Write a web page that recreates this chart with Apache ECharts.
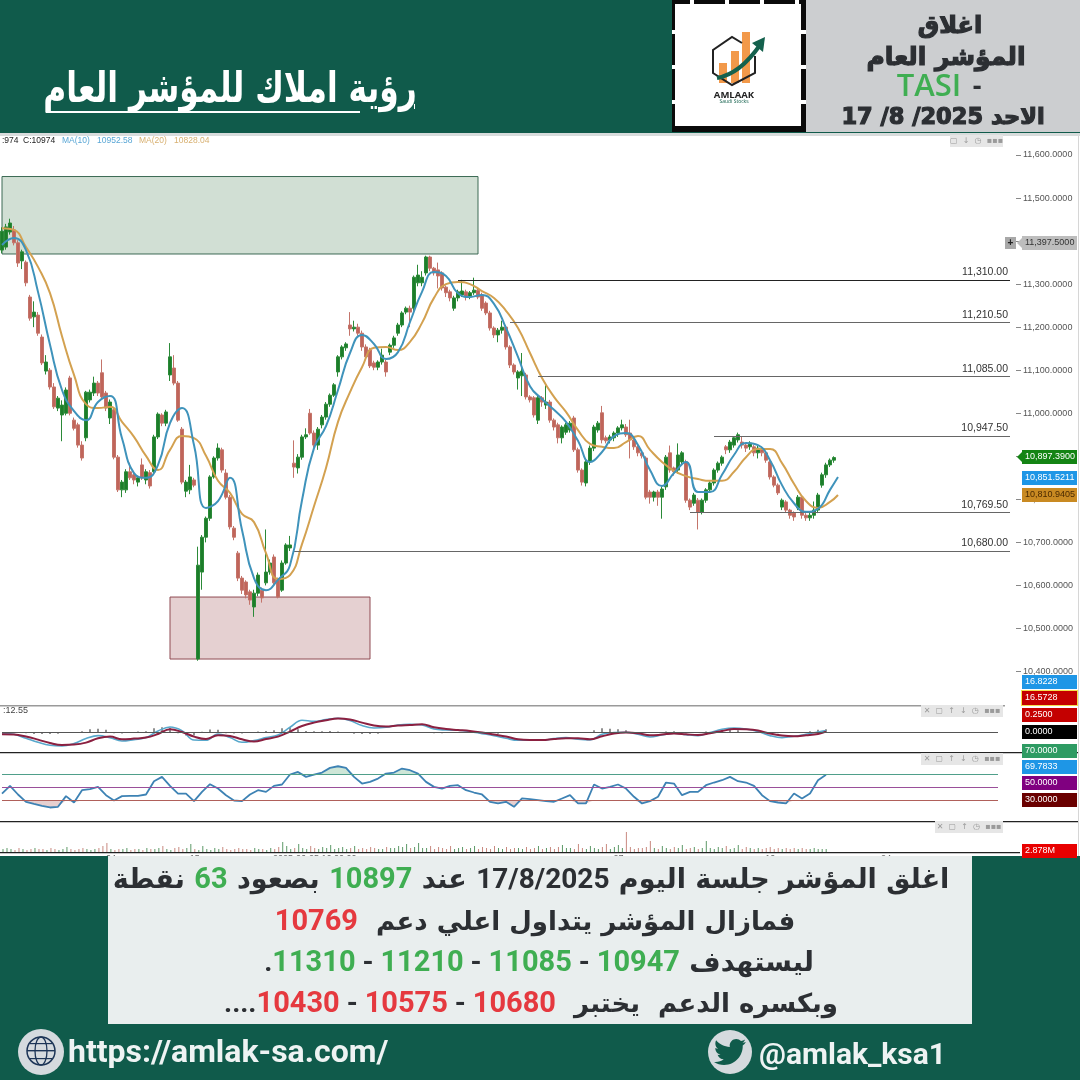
<!DOCTYPE html>
<html>
<head>
<meta charset="UTF-8">
<script src="https://cdn.jsdelivr.net/npm/echarts@6/dist/echarts.min.js"></script>
<style>
html,body{margin:0;padding:0;background:#fff}
#chart{width:1080px;height:1080px}
</style>
</head>
<body>
<div id="chart"></div>
<script type="text/javascript">
// open, close, low, high, one row per candle
var candles = [
[11379,11423,11372,11432],[11386,11433,11380,11440],[11421,11442,11415,11452],[11426,11396,11390,11435],[11396,11349,11340,11402],
[11354,11375,11335,11380],[11351,11303,11295,11355],[11270,11221,11215,11275],[11224,11235,11200,11260],[11228,11186,11180,11235],
[11177,11117,11112,11183],[11098,11119,11090,11135],[11100,11061,11055,11105],[11061,11015,11010,11070],[11012,11035,11005,11040],
[10996,11019,10935,11030],[11000,11054,10995,11060],[11082,11000,10995,11087],[10984,10965,10960,10990],[10973,10926,10920,10978],
[10926,10896,10890,10935],[10943,11049,10935,11052],[11031,11049,11025,11055],[11047,11070,11040,11085],[11070,11047,11040,11075],
[11094,11038,11032,11125],[11047,11012,11005,11052],[10989,11026,10975,11032],[11008,10898,10893,11012],[10898,10822,10817,10903],
[10822,10840,10805,10845],[10822,10864,10815,10870],[10864,10850,10845,10885],[10857,10845,10835,10862],[10840,10850,10830,10855],
[10880,10850,10845,10895],[10845,10864,10835,10870],[10862,10831,10825,10868],[10864,10945,10860,10950],[10945,10998,10940,11002],
[10996,10977,10970,11000],[10977,11003,10970,11008],[11089,11131,11075,11163],[11105,11070,11065,11135],[11070,10984,10980,11075],
[10963,10840,10835,10968],[10819,10840,10805,10845],[10822,10852,10812,10880],[10845,10833,10828,10850],[10429,10647,10425,10690],
[10631,10712,10590,10717],[10712,10756,10700,10760],[10756,10852,10750,10856],[10852,10896,10848,10900],[10896,10919,10890,10930],
[10915,10868,10862,10920],[10861,10805,10800,10870],[10805,10736,10730,10810],[10733,10712,10705,10738],[10675,10617,10610,10680],
[10617,10589,10580,10622],[10608,10578,10570,10612],[10585,10566,10555,10590],[10550,10582,10527,10590],[10582,10624,10575,10630],
[10589,10571,10560,10595],[10606,10631,10600,10730],[10631,10652,10625,10660],[10666,10606,10600,10672],[10613,10573,10570,10618],
[10589,10652,10585,10658],[10652,10694,10648,10698],[10687,10694,10680,10715],[10884,10875,10850,10937],[10873,10898,10860,10905],
[10898,10945,10892,10950],[10945,10950,10940,10965],[11000,10954,10950,11010],[10954,10926,10920,10960],[10926,10963,10915,10968],
[10973,10991,10965,10996],[10991,11021,10985,11026],[11021,11042,11015,11046],[11042,11066,11038,11070],[11096,11131,11085,11135],
[11131,11154,11125,11158],[11152,11161,11145,11165],[11205,11196,11180,11235],[11196,11200,11190,11215],[11200,11186,11180,11208],
[11186,11154,11145,11192],[11154,11131,11125,11160],[11147,11110,11105,11152],[11117,11107,11100,11122],[11107,11119,11100,11123],
[11119,11135,11113,11150],[11119,11096,11085,11124],[11142,11158,11135,11162],[11158,11175,11152,11180],[11186,11205,11180,11210],
[11205,11233,11200,11237],[11235,11244,11230,11248],[11244,11235,11200,11250],[11244,11316,11238,11320],[11303,11321,11295,11345],
[11303,11316,11295,11330],[11326,11363,11320,11366],[11363,11337,11330,11366],[11337,11326,11320,11340],[11333,11319,11290,11350],
[11326,11291,11285,11330],[11293,11280,11270,11297],[11282,11268,11260,11287],[11244,11268,11238,11273],[11268,11282,11260,11287],
[11275,11284,11270,11310],[11282,11270,11262,11287],[11270,11280,11265,11284],[11280,11286,11275,11315],[11286,11270,11265,11291],
[11275,11244,11238,11280],[11256,11233,11228,11260],[11233,11198,11192,11238],[11198,11182,11175,11202],[11182,11193,11165,11198],
[11193,11200,11185,11215],[11200,11154,11148,11205],[11154,11112,11105,11158],[11112,11096,11090,11116],[11082,11096,11055,11100],
[11087,11098,11040,11140],[11089,11038,11032,11094],[11038,11031,11025,11042],[11036,10996,10990,11040],[10984,11036,10975,11040],
[11036,11026,11015,11040],[11019,11026,11010,11065],[11026,10984,10978,11031],[10984,10968,10960,10988],[10973,10943,10930,10978],
[10943,10968,10930,10972],[10956,10973,10950,10978],[10961,10977,10955,10982],[10989,10915,10910,10994],[10915,10868,10862,10920],
[10868,10840,10832,10872],[10838,10887,10830,10892],[10887,10919,10880,10925],[10919,10968,10912,10973],[10961,10977,10955,10982],
[11001,10938,10930,11017],[10943,10936,10930,10948],[10938,10945,10930,10950],[10943,10954,10935,10958],[10954,10966,10945,10970],
[10966,10973,10960,10985],[10968,10950,10945,10975],[10954,10938,10895,10985],[10938,10922,10915,10942],[10922,10908,10900,10926],
[10908,10901,10895,10912],[10896,10805,10800,10900],[10817,10805,10790,10822],[10805,10817,10795,10820],[10817,10805,10785,10822],
[10805,10824,10755,10830],[10829,10898,10822,10903],[10908,10868,10862,10925],[10873,10864,10855,10876],[10868,10903,10860,10930],
[10887,10908,10880,10912],[10887,10798,10792,10892],[10798,10782,10775,10802],[10791,10810,10785,10815],[10798,10770,10730,10803],
[10770,10798,10765,10802],[10798,10822,10792,10826],[10822,10838,10815,10842],[10838,10868,10832,10872],[10868,10884,10862,10888],
[10884,10898,10878,10902],[10922,10915,10905,10926],[10915,10933,10908,10938],[10926,10943,10920,10947],[10938,10950,10932,10955],
[10933,10926,10918,10945],[10926,10919,10910,10930],[10922,10931,10915,10935],[10922,10908,10900,10926],[10908,10919,10895,10924],
[10917,10908,10900,10922],[10908,10891,10885,10912],[10887,10852,10846,10891],[10852,10833,10828,10856],[10833,10815,10810,10837],
[10782,10798,10775,10802],[10794,10775,10770,10798],[10775,10763,10755,10778],[10768,10759,10750,10772],[10780,10805,10775,10810],
[10805,10763,10755,10810],[10763,10757,10750,10768],[10757,10763,10750,10770],[10763,10775,10755,10795],[10775,10810,10768,10815],
[10833,10857,10827,10862],[10857,10880,10850,10885],[10880,10891,10875,10895],[10891,10897,10885,10900]
];

// moving averages, one value every third candle
var ma10 = [11391,11407,11379,11282,11159,11054,11005,10984,11026,11040,10942,10861,10850,10880,10977,11012,10926,10780,10796,10850,10729,10617,10589,10613,10647,10798,10919,10970,11054,11140,11182,11161,11126,11142,11212,11282,11328,11319,11279,11270,11275,11254,11198,11131,11063,11033,11008,10980,10936,10887,10910,10947,10954,10926,10868,10831,10861,10887,10817,10817,10857,10903,10931,10926,10891,10833,10791,10771,10778,10822,10852];
var ma20 = [11430,11426,11386,11340,11279,11179,11089,11021,11012,11015,10980,10945,10901,10868,10915,10947,10942,10901,10843,10815,10766,10747,10675,10615,10624,10696,10784,10873,10980,11049,11107,11152,11154,11147,11166,11210,11268,11300,11305,11300,11284,11268,11238,11198,11140,11082,11038,11003,10961,10929,10922,10919,10933,10947,10915,10887,10866,10854,10847,10843,10843,10864,10898,10917,10917,10884,10836,10796,10780,10794,10810];

// macd pane, one value every third candle
var macdLine = [-7,-20,-60,-100,-130,-137,-113,-63,-33,-53,-87,-73,-53,13,53,17,-77,-80,-17,-53,-100,-83,-53,-27,50,120,110,127,140,117,67,43,50,73,80,73,33,23,20,7,-13,-33,-60,-80,-80,-80,-63,-53,-70,-77,-20,-3,0,-20,-47,-27,-10,-23,-33,-3,30,43,33,7,-33,-53,-40,-20,3,17];
var macdSignal = [-20,-23,-43,-73,-107,-127,-123,-103,-60,-43,-70,-63,-53,-17,30,3,-43,-67,-30,-37,-70,-93,-67,-43,7,63,97,120,137,127,97,67,57,67,73,80,50,33,23,13,-3,-23,-43,-70,-77,-77,-67,-60,-60,-70,-40,-13,-3,-10,-30,-23,-13,-20,-27,-10,13,33,30,17,-13,-33,-40,-30,-17,7];
// one value every second candle
var macdHist = [0,0,-5,-10,-17,-17,-17,-15,-3,-2,10,30,35,25,-10,-13,-5,8,10,40,50,45,-10,-33,-33,5,27,25,-10,-13,-13,0,8,12,20,40,50,30,12,10,10,12,8,0,-15,-17,-17,-15,0,3,4,3,2,-5,-10,-10,-5,-2,0,-5,-15,-17,-15,-5,-5,-3,-3,0,0,0,0,2,0,3,20,40,35,30,20,0,-10,-8,0,8,10,3,0,-2,8,12,20,25,20,0,0,-8,-8,-10,-5,0,0,10,25,30];

// rsi, one value every second candle
var rsiLine = [40.6,52.6,39.1,27.7,24.5,21.4,18.8,19.9,36.5,26.6,45.8,47.4,51,38,29.7,36.5,37,37,39.1,59.9,66.6,52.6,40.6,40.6,28.7,43.2,55.2,48.4,38,29.7,28.7,39.1,45.8,43.2,52.6,54.7,70.3,74.4,66.6,70.3,73.4,80.7,83.2,80.7,66.6,56.2,58.8,64,71.8,73.4,79.6,77,71.8,58.8,51,48.4,52.6,53.6,45.8,42.2,39.1,27.7,25.1,27.7,19.9,32.9,31.8,30.3,28.7,27.7,32.9,38,25.1,25.1,54.7,48.4,51,54.7,48.4,35.5,25.1,28.7,35.5,57.8,56.2,38,43.2,43.2,53.6,57.8,61.4,66.6,59.9,57.8,52.6,38,28.7,26.6,25.1,40.6,32.9,40.6,61.4,69.8];
var rsiLevels = [70,50,30];

// volume in millions, one per candle
var volumes = [3,4,3,2,4,3,2,3,4,3, 3,2,4,3,2,3,5,3,2,3, 4,3,2,3,4,6,9,3,2,3, 3,4,2,3,3,2,4,3,3,4, 6,3,2,4,5,3,4,8,3,2,
6,3,2,4,3,5,3,2,3,4, 3,3,2,4,3,3,2,4,3,5, 10,6,3,4,8,4,3,6,4,3, 5,4,7,3,4,5,3,4,6,3, 4,3,5,4,3,3,5,4,4,6,
5,8,4,5,9,4,4,6,3,5, 4,3,6,3,4,5,3,4,6,3, 5,4,3,6,4,3,5,3,4,4, 3,5,3,4,6,3,4,5,3,5, 7,4,4,3,8,4,3,6,4,3,
5,8,3,5,7,4,20,5,3,4, 4,5,11,4,3,6,4,3,5,4, 7,3,4,5,3,4,11,4,3,5, 4,6,3,4,7,3,5,4,3,4, 3,4,5,3,4,3,4,3,4,3, 4,3,3,4,3,3,3];

// support / target levels and where each line starts
var levelValues = [11310,11210.5,11085,10947.5,10769.5,10680];
var levelStart = [114,127,134,178,172,73];
var greenZone = [11550,11370];
var redZone = [10573,10429];

var slotCount = 254;
var cats = [];
for (var i = 0; i < slotCount; i++) cats.push(String(i));
var timeTicks = {27:'04',48:'15',78:'2025-06-25 16:00:00',154:'27',192:'10',221:'24'};

function every(arr, step, last) {
	return arr.map(function(v, k){ return [Math.min(k * step, last), v]; });
}
function money(v, d) {
	var parts = v.toFixed(d).split('.');
	parts[0] = parts[0].replace(/\B(?=(\d{3})+$)/g, ',');
	return parts.join('.');
}

var BG = '#105b4b', INK = '#2c2f33', GREEN = '#3fae52', RED = '#e5393f';
var FONT_AR = '"DejaVu Sans"';
var els = [];
function rect(x, y, w, h, fill, extra) {
	els.push(Object.assign({type:'rect', z:100, silent:true, shape:{x:x,y:y,width:w,height:h}, style:{fill:fill}}, extra || {}));
}
function txt(x, y, s, font, fill, align, styleExtra, elExtra) {
	var st = Object.assign({text:s, font:font, fill:fill, align:align||'left', textAlign:align||'left', verticalAlign:'middle', textVerticalAlign:'middle'}, styleExtra || {});
	els.push(Object.assign({type:'text', z:101, silent:true, x:x, y:y, style:st}, elExtra || {}));
}

// banners, drawn over the chart so the time labels get cut like in the screenshot
rect(0,0,1080,133,BG);
rect(0,856,1080,224,BG);
rect(0,133,1080,3,'#d8dcdc');
rect(806,0,274,132,'#ccced0');
rect(108,856,864,168,'#e9eeee');

// title
txt(230,91,'رؤية املاك للمؤشر العام','bold 42px '+FONT_AR,'#ffffff','center',null,{scaleX:0.745});
rect(46,111,314,2,'#ffffff');
rect(414,104,1,5,'#ffffff');

// logo box
rect(672,0,134,132,'#0a0a0a');
rect(675,4,126,122,'#ffffff');
[690,725,760,795].forEach(function(x){ rect(x,0,4,4,'#ffffff'); });
[30,65,100].forEach(function(y){ rect(672,y,3,4,'#ffffff'); rect(801,y,5,4,'#ffffff'); });
rect(719,63,8,20,'#f2994a');
rect(731,51,8,32,'#f2994a');
rect(742,32,8,51,'#f2994a');
els.push({type:'polyline', z:101, silent:true, shape:{points:[[742,43],[732,37],[713,50],[713,73],[732,85],[755,73],[755,56]]}, style:{stroke:'#222',lineWidth:2,fill:null}});
els.push({type:'bezierCurve', z:102, silent:true, shape:{x1:717,y1:78,x2:760,y2:45,cpx1:740,cpy1:74}, style:{stroke:'#14614d',lineWidth:4,fill:null}});
els.push({type:'polygon', z:102, silent:true, shape:{points:[[765,37],[763,52],[752,43]]}, style:{fill:'#14614d'}});
txt(734,95,'AMLAAK','bold 9.5px "Open Sans"','#222','center');
txt(734,102,'Saudi Stocks','5px "Open Sans"','#14614d','center');

// top right panel
var heavy = {stroke:INK, lineWidth:1.2};
txt(950,27,'اغلاق','bold 24px '+FONT_AR,INK,'center',heavy);
txt(946,58,'المؤشر العام','bold 25px '+FONT_AR,INK,'center',heavy);
txt(929,87,'TASI','600 31px "Open Sans"',GREEN,'center');
txt(977,87,'-','bold 27px "Open Sans"',INK,'center');
txt(943,118,'17 /8 /2025 الاحد','bold 22.5px '+FONT_AR,INK,'center',heavy);

// text under the chart, each line written left to right as it appears
var richStyles = {
	a:{font:'bold 27px '+FONT_AR, fill:INK},
	b:{font:'bold 26px '+FONT_AR, fill:INK},
	g:{font:'bold 29px Roboto', fill:GREEN},
	r:{font:'bold 29px Roboto', fill:RED},
	k:{font:'bold 28px Roboto', fill:INK}
};
function richLine(y, cx, s) {
	els.push({type:'text', z:101, silent:true, x:cx, y:y, style:{text:s, rich:richStyles, align:'center', textAlign:'center', verticalAlign:'middle', textVerticalAlign:'middle'}});
}
richLine(881,531,'{a|نقطة }{g|63}{a| بصعود }{g|10897}{a| عند }{k|17/8/2025}{a| اغلق المؤشر جلسة اليوم}');
richLine(923,535,'{r|10769}{b|  فمازال المؤشر يتداول اعلي دعم}');
richLine(964,539,'{k|.}{g|11310}{k| - }{g|11210}{k| - }{g|11085}{k| - }{g|10947}{a| ليستهدف}');
richLine(1005,531,'{k|....}{r|10430}{k| - }{r|10575}{k| - }{r|10680}{b|  وبكسره الدعم  يختبر}');

// footer
els.push({type:'circle', z:100, silent:true, shape:{cx:41,cy:1052,r:23}, style:{fill:'#d5dade'}});
els.push({type:'circle', z:101, silent:true, shape:{cx:41,cy:1051,r:14}, style:{fill:null,stroke:'#1d3557',lineWidth:1.5}});
els.push({type:'ellipse', z:101, silent:true, shape:{cx:41,cy:1051,rx:6,ry:14}, style:{fill:null,stroke:'#1d3557',lineWidth:1.3}});
rect(27,1050,28,1.4,'#1d3557');
rect(30,1043,22,1.2,'#1d3557');
rect(30,1058,22,1.2,'#1d3557');
txt(68,1054,'https://amlak-sa.com/','bold 32px Roboto','#eef3f3','left');
els.push({type:'circle', z:100, silent:true, shape:{cx:730,cy:1052,r:22}, style:{fill:'#d5dade'}});
echarts.graphic.registerShape('birdIcon', echarts.graphic.extendPath('M24 4.6 C23.1 5 22.2 5.2 21.2 5.3 C22.2 4.7 23 3.7 23.4 2.6 C22.4 3.2 21.4 3.6 20.3 3.8 C19.4 2.8 18.1 2.2 16.7 2.2 C14 2.2 11.8 4.4 11.8 7.1 C11.8 7.5 11.8 7.9 11.9 8.2 C7.8 8 4.1 6.1 1.6 3.2 C1.2 3.9 1 4.8 1 5.6 C1 7.3 1.9 8.8 3.2 9.7 C2.4 9.7 1.6 9.5 1 9.1 L1 9.2 C1 11.6 2.7 13.5 4.9 14 C4.5 14.1 4.1 14.2 3.6 14.2 C3.3 14.2 3 14.2 2.7 14.1 C3.3 16.1 5.1 17.5 7.3 17.5 C5.6 18.8 3.5 19.6 1.2 19.6 C0.8 19.6 0.4 19.6 0 19.5 C2.2 20.9 4.8 21.8 7.6 21.8 C16.6 21.8 21.6 14.3 21.6 7.8 L21.6 7.2 C22.6 6.5 23.4 5.6 24 4.6 Z', {}));
els.push({type:'birdIcon', z:101, silent:true, x:714, y:1036, scaleX:1.33, scaleY:1.33, style:{fill:BG}});
txt(759,1056,'@amlak_ksa1','bold 30px Roboto','#eef3f3','left');

// chart header text
txt(2,141,':974','8.5px "Liberation Sans"','#222');
txt(23,141,'C:10974','8.5px "Liberation Sans"','#222');
txt(62,141,'MA(10)','8.5px "Liberation Sans"','#5aa7d6');
txt(97,141,'10952.58','8.5px "Liberation Sans"','#5aa7d6');
txt(139,141,'MA(20)','8.5px "Liberation Sans"','#d8b070');
txt(174,141,'10828.04','8.5px "Liberation Sans"','#d8b070');
txt(3,711,':12.55','9px "Liberation Sans"','#444');

// pane borders
rect(0,705,1005,1.5,'#9a9a9a');
rect(0,752,1078,1.2,'#222');
rect(0,821,1078,1.2,'#222');
rect(0,852,1020,1.2,'#222');
rect(1078,136,1,720,'#d6d6d6');

// toolbars of the chart platform
function toolbar(x1, x2, y, s) {
	rect(x1,y-6,x2-x1,12,'#e6e6e6');
	txt((x1+x2)/2,y,s,'8px "DejaVu Sans"','#9a9a9a','center');
}
toolbar(950,1003,141,'▢  ↓  ◷  ▪▪▪');
toolbar(921,1003,711,'✕  ▢  ↑  ↓  ◷  ▪▪▪');
toolbar(921,1003,759,'✕  ▢  ↑  ↓  ◷  ▪▪▪');
toolbar(935,1003,827,'✕  ▢  ↑  ◷  ▪▪▪');

// value tags on the right edge
var tagTexts = ['11,397.5000','10,897.3900','10,851.5211','10,810.9405','16.8228','16.5728','0.2500','0.0000','70.0000','69.7833','50.0000','30.0000','2.878M'];
var tagY = [243,457,478,495,682,698,715,732,751,767,783,800,851];
var tagBg = ['#bdbdbd','#148414','#1e96e6','#c98a22','#1e96e6','#c40000','#c40000','#000000','#2e9b63','#1e96e6','#800080','#6a0000','#e80000'];
var tagFg = ['#333','#fff','#fff','#4a2a00','#fff','#fff','#fff','#fff','#fff','#fff','#fff','#fff','#fff'];
tagTexts.forEach(function(t, k){
	var x = 1022, w = 55, h = 14;
	if (k == 5) rect(x-1,tagY[k]-8,w+2,16,'#f4e04d');
	rect(x,tagY[k]-h/2,w,h,tagBg[k]);
	if (k < 2) els.push({type:'polygon', z:100, silent:true, shape:{points:[[1022,tagY[k]-5],[1022,tagY[k]+5],[1017,tagY[k]]]}, style:{fill:tagBg[k]}});
	txt(x+3,tagY[k],t,'9px "Liberation Sans"',tagFg[k]);
});
rect(1005,237,11,12,'#a8a8a8');
txt(1010.5,243,'+','bold 10px "Liberation Sans"','#222','center');

var levelLines = levelValues.map(function(v, k){
	var shade = k == 0 ? '#222' : '#666';
	return [{coord:[levelStart[k], v], name:money(v,2), lineStyle:{color:shade}}, {coord:[252, v]}];
});

function rsiMark(v, color) {
	return [{coord:[0, v], lineStyle:{color:color}}, {coord:[249, v]}];
}

var xBase = {type:'category', data:cats, boundaryGap:true, axisLine:{show:false}, axisTick:{show:false}, axisLabel:{show:false}, splitLine:{show:false}};
function xa(grid, extra) { return Object.assign({}, xBase, {gridIndex:grid}, extra || {}); }
function ya(grid, mn, mx) { return {type:'value', gridIndex:grid, min:mn, max:mx, position:'right', show:false, splitLine:{show:false}}; }

var option = {
	animation:false,
	backgroundColor:'#ffffff',
	tooltip:{show:false},
	graphic:{elements:els},
	grid:[
		{left:0, width:1016, top:155, height:516.5},
		{left:0, width:1016, top:706, height:46},
		{left:0, width:1016, top:753, height:68},
		{left:0, width:1016, top:822, height:30}
	],
	xAxis:[
		xa(0), xa(1), xa(2),
		xa(3, {axisLabel:{show:true, interval:0, margin:2, fontSize:9, color:'#666', formatter:function(v, k){ return timeTicks[k] || ''; }}})
	],
	yAxis:[
		{type:'value', gridIndex:0, position:'right', min:10400, max:11600, interval:100, splitLine:{show:false},
			axisLine:{show:false}, axisTick:{show:true, length:5, lineStyle:{color:'#888'}},
			axisLabel:{margin:7, fontSize:9, fontFamily:'Liberation Sans', color:'#555', formatter:function(v){ return money(v,4); }}},
		ya(1,-197,263), ya(2,-2.3,103.9), ya(3,0,30)
	],
	series:[
		{name:'zones', type:'line', xAxisIndex:0, yAxisIndex:0, data:[], z:1, silent:true,
			markArea:{silent:true, data:[
				[{xAxis:0, yAxis:greenZone[0], itemStyle:{color:'#d1dfd4', borderColor:'#3c6a55', borderWidth:1}}, {xAxis:119, yAxis:greenZone[1]}],
				[{xAxis:42, yAxis:redZone[0], itemStyle:{color:'#e5d0d1', borderColor:'#8f4a52', borderWidth:1}}, {xAxis:92, yAxis:redZone[1]}]
			]}},
		{name:'price', type:'candlestick', xAxisIndex:0, yAxisIndex:0, data:candles, barWidth:3, z:3,
			itemStyle:{color:'#1c7d2a', color0:'#c0655a', borderColor:'#2b8a38', borderColor0:'#c4746a', borderWidth:1},
			markLine:{silent:true, symbol:'none', animation:false,
				lineStyle:{type:'solid', width:1.2},
				label:{show:true, position:'insideEndTop', distance:2, formatter:'{b}', fontSize:10.5, fontFamily:'Liberation Sans', color:'#333'},
				data:levelLines}},
		{name:'MA10', type:'line', xAxisIndex:0, yAxisIndex:0, data:every(ma10,3,209), smooth:0.5, showSymbol:false, lineStyle:{color:'#3f93bb', width:2}, z:5},
		{name:'MA20', type:'line', xAxisIndex:0, yAxisIndex:0, data:every(ma20,3,209), smooth:0.5, showSymbol:false, lineStyle:{color:'#d3a150', width:2}, z:4},

		{name:'hist', type:'bar', xAxisIndex:1, yAxisIndex:1, data:every(macdHist,2,206), barWidth:1, itemStyle:{color:'#222'}, z:2,
			markLine:{silent:true, symbol:'none', animation:false, label:{show:false},
				lineStyle:{type:'solid', color:'#555', width:1}, data:[[{coord:[0,0]},{coord:[249,0]}]]}},
		{name:'macd', type:'line', xAxisIndex:1, yAxisIndex:1, data:every(macdLine,3,206), smooth:0.4, showSymbol:false, lineStyle:{color:'#58a8cc', width:1.6}, z:3},
		{name:'signal', type:'line', xAxisIndex:1, yAxisIndex:1, data:every(macdSignal,3,206), smooth:0.4, showSymbol:false, lineStyle:{color:'#8b2040', width:2}, z:4},

		{name:'rsiHigh', type:'line', xAxisIndex:2, yAxisIndex:2, data:every(rsiLine.map(function(v){ return Math.max(v,rsiLevels[0]); }),2,206), showSymbol:false, lineStyle:{width:0}, areaStyle:{origin:rsiLevels[0], color:'#b9dcc6'}, z:2},
		{name:'rsiLow', type:'line', xAxisIndex:2, yAxisIndex:2, data:every(rsiLine.map(function(v){ return Math.min(v,rsiLevels[2]); }),2,206), showSymbol:false, lineStyle:{width:0}, areaStyle:{origin:rsiLevels[2], color:'#dcbcbc'}, z:2},
		{name:'rsi', type:'line', xAxisIndex:2, yAxisIndex:2, data:every(rsiLine,2,206), showSymbol:false, lineStyle:{color:'#3d82b4', width:1.8}, z:4,
			markLine:{silent:true, symbol:'none', animation:false, label:{show:false}, lineStyle:{type:'solid', width:1},
				data:[rsiMark(rsiLevels[0],'#4f9f8a'), rsiMark(rsiLevels[1],'#9a4f9a'), rsiMark(rsiLevels[2],'#b0605a')]}},

		{name:'volume', type:'bar', xAxisIndex:3, yAxisIndex:3, data:volumes, barWidth:1, z:2,
			itemStyle:{color:function(p){ var c = candles[p.dataIndex]; return c && c[1] >= c[0] ? '#5e9a68' : '#c98a80'; }}}
	]
};

var myChart = echarts.init(document.getElementById('chart'), null, {renderer:'canvas'});
myChart.setOption(option);
</script>
</body>
</html>
